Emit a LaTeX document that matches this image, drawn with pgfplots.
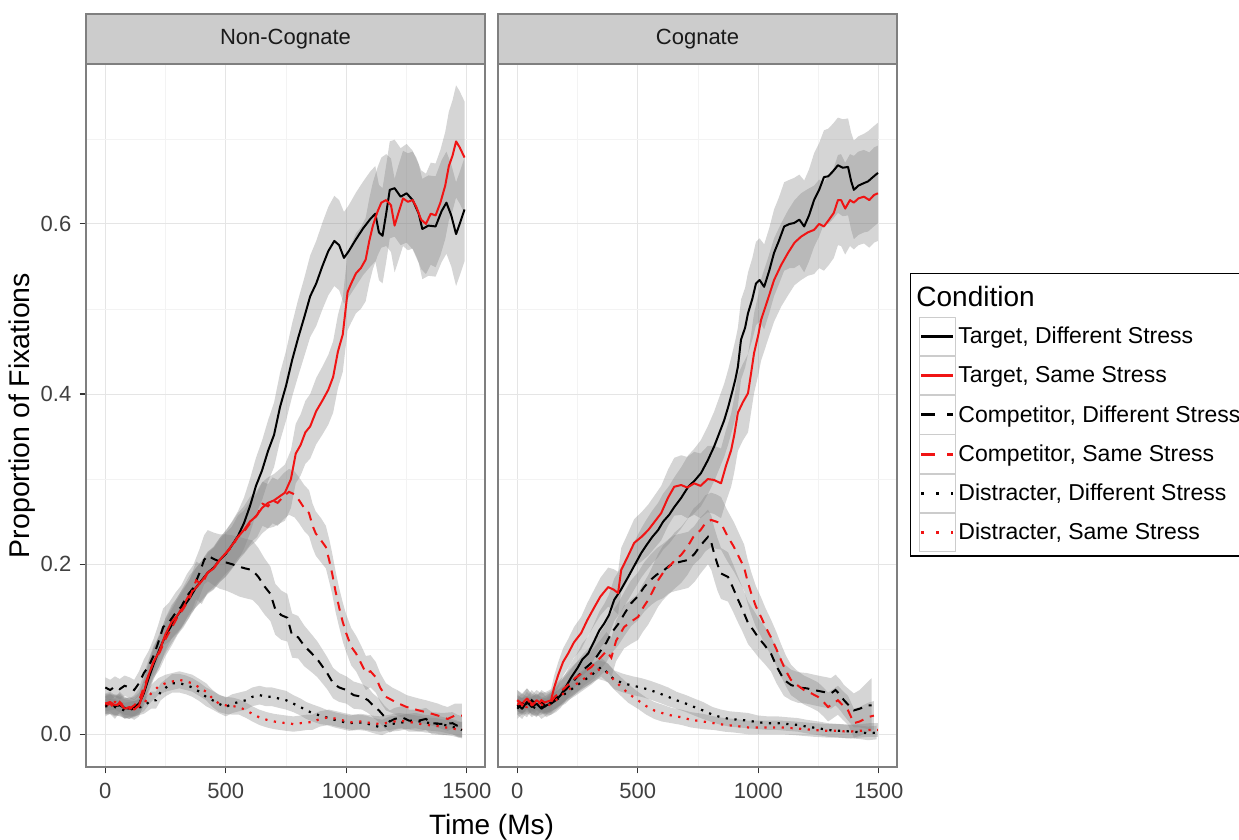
\documentclass[border=0pt]{standalone}
\usepackage{fontspec}
\setmainfont{Liberation Sans}
\usepackage{pgfplots}
\usepackage{pgfplotstable}
\pgfplotsset{compat=1.18}
\usepgfplotslibrary{fillbetween}

\definecolor{lineRed}{RGB}{240,20,20}
\definecolor{gridMajor}{RGB}{229,229,229}
\definecolor{gridMinor}{RGB}{243,243,243}
\definecolor{borderGrey}{RGB}{127,127,127}
\definecolor{tickGrey}{RGB}{51,51,51}
\definecolor{stripFill}{RGB}{204,204,204}
\definecolor{tickText}{RGB}{64,64,64}
\definecolor{stripText}{RGB}{26,26,26}
\definecolor{keyBorder}{RGB}{204,204,204}

% ---------------- Non-Cognate ----------------
\pgfplotstableread{
t v se
0 0.035 0.012
20 0.036 0.012
40 0.033 0.012
60 0.034 0.012
80 0.031 0.012
100 0.030 0.012
120 0.032 0.012
140 0.036 0.013
160 0.048 0.015
180 0.066 0.017
200 0.082 0.018
225 0.100 0.019
250 0.116 0.020
275 0.128 0.021
300 0.140 0.022
325 0.150 0.022
350 0.160 0.022
375 0.172 0.023
400 0.181 0.023
425 0.190 0.024
450 0.196 0.025
475 0.205 0.026
500 0.212 0.027
525 0.222 0.028
550 0.233 0.029
575 0.248 0.030
600 0.268 0.032
625 0.292 0.033
650 0.310 0.035
675 0.333 0.036
700 0.352 0.038
725 0.385 0.040
750 0.410 0.041
775 0.440 0.043
800 0.466 0.045
825 0.490 0.046
850 0.515 0.048
875 0.530 0.050
900 0.550 0.051
925 0.568 0.052
950 0.580 0.053
970 0.575 0.053
990 0.560 0.054
1010 0.568 0.054
1040 0.582 0.055
1070 0.595 0.055
1100 0.606 0.056
1120 0.612 0.056
1135 0.590 0.056
1150 0.586 0.056
1165 0.612 0.057
1180 0.640 0.057
1200 0.642 0.057
1225 0.632 0.057
1250 0.636 0.058
1275 0.628 0.058
1300 0.612 0.058
1315 0.594 0.059
1340 0.598 0.059
1370 0.597 0.059
1395 0.615 0.060
1415 0.625 0.060
1435 0.610 0.060
1455 0.588 0.061
1470 0.600 0.061
1490 0.617 0.061
}\ncTD

\pgfplotstableread{
t v se
0 0.036 0.012
20 0.038 0.012
40 0.034 0.012
60 0.036 0.012
80 0.030 0.012
100 0.032 0.012
120 0.029 0.012
140 0.034 0.013
160 0.050 0.015
180 0.070 0.016
200 0.085 0.017
225 0.098 0.018
250 0.118 0.019
275 0.132 0.020
300 0.140 0.021
325 0.152 0.022
350 0.165 0.022
375 0.172 0.023
400 0.180 0.024
425 0.190 0.025
450 0.195 0.025
475 0.205 0.026
500 0.213 0.027
525 0.222 0.027
550 0.232 0.028
575 0.240 0.028
600 0.250 0.029
625 0.256 0.029
650 0.266 0.030
675 0.272 0.030
700 0.275 0.031
725 0.280 0.032
745 0.284 0.033
770 0.300 0.034
790 0.330 0.035
810 0.340 0.036
830 0.355 0.037
850 0.362 0.038
875 0.380 0.039
900 0.392 0.040
925 0.405 0.041
945 0.420 0.042
965 0.450 0.043
985 0.470 0.044
1005 0.520 0.045
1020 0.530 0.046
1040 0.542 0.047
1060 0.548 0.048
1080 0.558 0.049
1095 0.580 0.050
1110 0.598 0.051
1130 0.615 0.052
1145 0.625 0.053
1165 0.628 0.054
1185 0.622 0.055
1200 0.598 0.055
1215 0.612 0.056
1235 0.630 0.056
1255 0.626 0.057
1275 0.628 0.057
1290 0.620 0.058
1310 0.605 0.058
1330 0.600 0.059
1350 0.612 0.060
1370 0.610 0.061
1390 0.625 0.062
1410 0.645 0.063
1425 0.668 0.064
1440 0.680 0.065
1455 0.697 0.066
1470 0.690 0.066
1490 0.678 0.066
}\ncTS

\pgfplotstableread{
t v se
0 0.055 0.012
20 0.052 0.012
40 0.056 0.012
60 0.053 0.012
80 0.057 0.012
100 0.055 0.012
120 0.052 0.012
140 0.060 0.014
160 0.072 0.016
180 0.080 0.018
200 0.092 0.020
220 0.108 0.021
240 0.126 0.022
265 0.132 0.023
290 0.142 0.024
315 0.150 0.025
340 0.163 0.026
365 0.172 0.027
390 0.189 0.028
410 0.205 0.029
425 0.210 0.030
450 0.206 0.031
475 0.203 0.032
500 0.202 0.033
525 0.200 0.034
555 0.197 0.035
580 0.195 0.035
610 0.193 0.035
635 0.185 0.034
660 0.174 0.033
685 0.165 0.032
705 0.147 0.030
730 0.140 0.029
755 0.137 0.028
775 0.116 0.026
800 0.114 0.025
825 0.104 0.024
860 0.094 0.022
880 0.088 0.021
900 0.080 0.020
920 0.072 0.019
945 0.060 0.018
970 0.055 0.017
1000 0.052 0.016
1030 0.046 0.016
1065 0.044 0.015
1090 0.040 0.015
1110 0.034 0.014
1135 0.028 0.014
1160 0.020 0.013
1180 0.015 0.013
1200 0.018 0.013
1230 0.020 0.013
1260 0.016 0.013
1300 0.016 0.013
1330 0.018 0.013
1355 0.013 0.013
1400 0.012 0.013
1440 0.013 0.013
1460 0.010 0.013
1480 0.008 0.013
}\ncCD

\pgfplotstableread{
t v se
0 0.033 0.012
20 0.036 0.012
40 0.030 0.012
60 0.038 0.012
80 0.032 0.012
100 0.030 0.012
120 0.034 0.012
140 0.040 0.014
160 0.055 0.016
180 0.070 0.018
200 0.085 0.019
225 0.096 0.020
250 0.112 0.020
275 0.125 0.021
300 0.138 0.021
325 0.148 0.022
350 0.160 0.022
377 0.181 0.022
400 0.176 0.023
425 0.190 0.023
450 0.196 0.023
475 0.205 0.024
500 0.213 0.024
525 0.220 0.024
550 0.232 0.025
575 0.238 0.025
610 0.252 0.025
630 0.258 0.026
652 0.271 0.026
675 0.268 0.026
694 0.275 0.027
715 0.272 0.027
740 0.280 0.027
762 0.285 0.027
785 0.282 0.027
804 0.275 0.027
825 0.266 0.027
845 0.260 0.027
860 0.245 0.026
873 0.236 0.026
895 0.228 0.026
915 0.220 0.025
930 0.203 0.025
941 0.189 0.024
955 0.168 0.024
970 0.149 0.023
985 0.132 0.023
999 0.119 0.022
1020 0.103 0.022
1040 0.095 0.021
1060 0.084 0.021
1081 0.072 0.020
1100 0.074 0.019
1122 0.067 0.018
1140 0.055 0.017
1164 0.044 0.016
1190 0.040 0.015
1218 0.036 0.015
1250 0.032 0.014
1275 0.030 0.014
1301 0.028 0.014
1330 0.026 0.014
1355 0.024 0.014
1380 0.022 0.014
1397 0.020 0.014
1420 0.018 0.014
1450 0.022 0.014
1479 0.022 0.014
}\ncCS

\pgfplotstableread{
t v se
0 0.033 0.009
40 0.032 0.009
80 0.028 0.009
120 0.030 0.009
160 0.033 0.009
190 0.040 0.010
210 0.040 0.010
230 0.050 0.010
252 0.055 0.010
278 0.060 0.011
307 0.060 0.011
335 0.058 0.011
361 0.055 0.011
390 0.050 0.011
418 0.044 0.011
445 0.040 0.011
470 0.036 0.011
500 0.032 0.011
527 0.036 0.011
555 0.038 0.011
584 0.040 0.011
610 0.044 0.011
640 0.046 0.011
667 0.044 0.011
692 0.044 0.011
720 0.042 0.011
750 0.040 0.011
780 0.036 0.010
810 0.032 0.010
833 0.028 0.010
860 0.025 0.010
890 0.022 0.010
916 0.020 0.009
950 0.017 0.009
980 0.015 0.009
1011 0.013 0.009
1050 0.014 0.009
1081 0.013 0.009
1115 0.010 0.009
1148 0.008 0.009
1180 0.012 0.009
1218 0.013 0.009
1250 0.015 0.009
1288 0.016 0.009
1320 0.014 0.009
1355 0.013 0.009
1390 0.012 0.009
1420 0.010 0.009
1450 0.008 0.009
1479 0.005 0.009
}\ncDD

\pgfplotstableread{
t v se
0 0.036 0.009
40 0.038 0.009
80 0.032 0.009
120 0.030 0.009
160 0.036 0.009
190 0.048 0.010
220 0.056 0.010
250 0.060 0.010
278 0.062 0.010
307 0.064 0.010
335 0.062 0.010
361 0.060 0.010
390 0.055 0.010
418 0.050 0.010
445 0.042 0.010
472 0.036 0.010
500 0.034 0.010
530 0.033 0.010
555 0.032 0.009
585 0.028 0.009
610 0.024 0.009
638 0.020 0.009
670 0.017 0.009
700 0.015 0.009
725 0.014 0.009
750 0.013 0.009
780 0.012 0.009
810 0.013 0.009
835 0.014 0.009
858 0.014 0.009
890 0.018 0.009
928 0.020 0.009
960 0.018 0.009
990 0.016 0.009
1023 0.014 0.009
1060 0.015 0.009
1106 0.013 0.009
1140 0.012 0.009
1180 0.014 0.009
1218 0.016 0.009
1250 0.015 0.009
1290 0.013 0.009
1330 0.011 0.009
1370 0.010 0.009
1410 0.008 0.009
1440 0.007 0.009
1466 0.005 0.009
1480 0.006 0.009
}\ncDS

% ---------------- Cognate ----------------
\pgfplotstableread{
t v se
0 0.035 0.012
20 0.030 0.012
40 0.038 0.012
60 0.032 0.012
80 0.036 0.012
100 0.030 0.012
120 0.034 0.012
140 0.036 0.013
160 0.040 0.014
180 0.046 0.015
200 0.055 0.016
224 0.067 0.017
250 0.078 0.018
270 0.088 0.019
294 0.095 0.020
320 0.110 0.021
340 0.122 0.022
360 0.130 0.023
380 0.140 0.024
402 0.158 0.025
430 0.170 0.026
460 0.185 0.027
485 0.198 0.028
514 0.213 0.029
535 0.222 0.030
560 0.232 0.031
584 0.240 0.032
605 0.250 0.033
630 0.258 0.034
651 0.267 0.035
680 0.278 0.036
709 0.291 0.037
735 0.298 0.038
762 0.307 0.039
790 0.322 0.040
816 0.338 0.041
835 0.352 0.042
858 0.369 0.043
875 0.385 0.044
890 0.401 0.045
905 0.418 0.046
915 0.432 0.046
928 0.464 0.047
945 0.478 0.047
957 0.495 0.048
975 0.512 0.048
990 0.530 0.049
1005 0.534 0.049
1024 0.526 0.050
1045 0.545 0.050
1065 0.566 0.051
1085 0.580 0.051
1107 0.597 0.052
1130 0.600 0.052
1148 0.601 0.053
1170 0.605 0.053
1190 0.597 0.054
1210 0.610 0.054
1231 0.628 0.055
1252 0.640 0.055
1272 0.655 0.055
1290 0.656 0.056
1310 0.662 0.056
1330 0.669 0.056
1350 0.666 0.057
1372 0.667 0.057
1385 0.650 0.057
1396 0.640 0.058
1415 0.645 0.058
1438 0.648 0.058
1455 0.650 0.059
1475 0.655 0.059
1496 0.660 0.059
}\coTD

\pgfplotstableread{
t v se
0 0.040 0.012
20 0.036 0.012
40 0.042 0.012
60 0.034 0.012
80 0.040 0.012
100 0.036 0.012
120 0.038 0.012
140 0.040 0.013
153 0.055 0.014
170 0.070 0.015
190 0.085 0.016
211 0.095 0.017
235 0.108 0.018
265 0.119 0.019
290 0.134 0.020
319 0.149 0.021
345 0.162 0.022
377 0.173 0.023
400 0.170 0.024
418 0.166 0.025
431 0.193 0.026
460 0.210 0.027
485 0.225 0.028
515 0.232 0.029
543 0.240 0.030
570 0.250 0.031
597 0.260 0.032
625 0.278 0.033
651 0.291 0.034
680 0.293 0.035
705 0.290 0.036
734 0.295 0.037
760 0.292 0.038
790 0.300 0.039
816 0.299 0.040
845 0.295 0.041
865 0.315 0.042
887 0.334 0.043
900 0.352 0.044
915 0.378 0.045
935 0.390 0.045
957 0.401 0.046
970 0.425 0.046
982 0.448 0.047
1000 0.470 0.047
1011 0.487 0.048
1040 0.512 0.048
1065 0.534 0.049
1095 0.552 0.049
1123 0.566 0.050
1150 0.578 0.050
1177 0.585 0.051
1205 0.590 0.051
1231 0.593 0.052
1252 0.600 0.052
1272 0.597 0.052
1293 0.605 0.053
1313 0.613 0.053
1330 0.628 0.053
1343 0.628 0.054
1360 0.618 0.054
1380 0.628 0.054
1396 0.625 0.055
1415 0.630 0.055
1438 0.632 0.055
1460 0.628 0.056
1480 0.634 0.056
1496 0.636 0.056
}\coTS

\pgfplotstableread{
t v se
0 0.030 0.012
20 0.036 0.012
40 0.032 0.012
60 0.040 0.012
80 0.034 0.012
100 0.038 0.012
120 0.032 0.012
140 0.036 0.013
160 0.042 0.014
180 0.048 0.015
200 0.052 0.016
225 0.060 0.017
250 0.068 0.018
275 0.076 0.019
300 0.082 0.020
319 0.087 0.021
345 0.098 0.022
370 0.108 0.023
390 0.119 0.024
420 0.130 0.025
445 0.142 0.026
472 0.154 0.027
500 0.162 0.028
526 0.173 0.029
555 0.182 0.030
580 0.188 0.031
605 0.192 0.032
630 0.198 0.032
651 0.201 0.033
680 0.203 0.033
709 0.205 0.033
735 0.212 0.033
760 0.222 0.033
791 0.232 0.032
805 0.225 0.032
816 0.213 0.031
830 0.200 0.031
845 0.189 0.030
874 0.185 0.029
895 0.172 0.028
916 0.158 0.027
935 0.146 0.026
957 0.131 0.025
980 0.122 0.024
999 0.114 0.023
1025 0.105 0.022
1052 0.095 0.021
1075 0.080 0.020
1106 0.064 0.019
1135 0.058 0.018
1164 0.055 0.018
1200 0.054 0.018
1231 0.052 0.018
1265 0.050 0.018
1301 0.048 0.018
1320 0.052 0.018
1340 0.046 0.018
1355 0.040 0.018
1375 0.034 0.019
1396 0.028 0.020
1420 0.030 0.022
1438 0.032 0.025
1455 0.034 0.028
1470 0.034 0.032
}\coCD

\pgfplotstableread{
t v se
0 0.040 0.012
20 0.034 0.012
40 0.042 0.012
60 0.036 0.012
80 0.032 0.012
100 0.040 0.012
120 0.036 0.012
140 0.038 0.013
155 0.044 0.014
180 0.050 0.015
210 0.058 0.016
240 0.066 0.017
270 0.072 0.018
307 0.079 0.019
330 0.086 0.020
348 0.091 0.021
370 0.098 0.022
390 0.090 0.023
410 0.110 0.024
443 0.126 0.025
470 0.132 0.026
501 0.138 0.027
520 0.148 0.028
543 0.158 0.029
565 0.170 0.030
584 0.181 0.031
605 0.190 0.032
626 0.196 0.032
652 0.204 0.033
680 0.211 0.033
705 0.220 0.033
730 0.232 0.033
760 0.240 0.033
780 0.248 0.033
804 0.252 0.032
825 0.250 0.032
845 0.248 0.031
870 0.234 0.030
899 0.220 0.029
920 0.208 0.028
941 0.196 0.027
955 0.180 0.026
970 0.166 0.025
990 0.150 0.024
1011 0.138 0.023
1030 0.126 0.022
1052 0.114 0.021
1075 0.100 0.020
1094 0.087 0.019
1115 0.074 0.018
1135 0.064 0.018
1160 0.058 0.017
1189 0.052 0.017
1220 0.048 0.017
1247 0.044 0.017
1270 0.038 0.017
1289 0.032 0.017
1310 0.036 0.017
1330 0.040 0.017
1350 0.034 0.017
1372 0.028 0.017
1385 0.020 0.017
1396 0.013 0.017
1420 0.015 0.017
1455 0.020 0.017
1479 0.022 0.017
}\coCS

\pgfplotstableread{
t v se
0 0.032 0.009
40 0.036 0.009
80 0.030 0.009
120 0.034 0.009
160 0.040 0.010
200 0.048 0.010
240 0.056 0.011
280 0.064 0.011
310 0.070 0.011
330 0.075 0.011
348 0.079 0.011
375 0.072 0.011
402 0.064 0.011
440 0.060 0.011
480 0.057 0.011
514 0.055 0.011
550 0.052 0.011
590 0.048 0.011
626 0.044 0.011
660 0.040 0.010
700 0.036 0.010
734 0.032 0.010
770 0.028 0.010
810 0.023 0.009
845 0.020 0.009
880 0.018 0.009
920 0.017 0.009
957 0.016 0.009
1000 0.014 0.008
1040 0.013 0.008
1080 0.013 0.008
1120 0.012 0.008
1164 0.011 0.008
1200 0.009 0.008
1250 0.007 0.008
1289 0.005 0.008
1340 0.004 0.008
1396 0.003 0.008
1430 0.002 0.008
1455 0.001 0.008
1490 0.002 0.008
}\coDD

\pgfplotstableread{
t v se
0 0.036 0.009
40 0.032 0.009
80 0.038 0.009
120 0.032 0.009
160 0.040 0.010
200 0.050 0.010
240 0.058 0.011
280 0.066 0.011
310 0.072 0.011
335 0.076 0.011
360 0.074 0.011
377 0.072 0.011
400 0.064 0.011
430 0.056 0.011
460 0.048 0.011
500 0.040 0.010
535 0.033 0.010
568 0.028 0.010
600 0.025 0.010
640 0.022 0.009
680 0.020 0.009
720 0.017 0.009
770 0.015 0.009
816 0.013 0.008
860 0.011 0.008
900 0.010 0.008
957 0.008 0.008
1000 0.008 0.008
1050 0.008 0.008
1094 0.008 0.008
1150 0.007 0.008
1190 0.006 0.008
1231 0.005 0.008
1290 0.004 0.008
1330 0.004 0.008
1372 0.003 0.008
1420 0.004 0.008
1460 0.005 0.008
1496 0.005 0.008
}\coDS

\newcommand{\ribbon}[2]{%
  \addplot[name path=#2u, draw=none, forget plot] table[x=t, y expr=\thisrow{v}+\thisrow{se}] {#1};
  \addplot[name path=#2l, draw=none, forget plot] table[x=t, y expr=\thisrow{v}-\thisrow{se}] {#1};
  \addplot[fill=gray, fill opacity=0.33, draw=none, forget plot] fill between[of=#2u and #2l];
}

\tikzset{
  strip/.style={fill=stripFill, draw=borderGrey, line width=1.2pt,
    minimum width=399pt, minimum height=50pt, inner sep=0pt, outer sep=0pt,
    anchor=south, font=\fontsize{22}{26}\selectfont, text=stripText},
}

\pgfplotsset{
  tdS/.style={black, line width=2pt, solid, line join=round},
  tsS/.style={lineRed, line width=2pt, solid, line join=round},
  cdS/.style={black, line width=2pt, dash pattern=on 9pt off 7pt},
  csS/.style={lineRed, line width=2pt, dash pattern=on 9pt off 7pt},
  ddS/.style={black, line width=2.2pt, dash pattern=on 2.2pt off 6.5pt},
  dsS/.style={lineRed, line width=2.2pt, dash pattern=on 2.2pt off 6.5pt},
  panel/.style={
    scale only axis, width=399pt, height=703pt, anchor=south west,
    xmin=-80, xmax=1575, ymin=-0.0385, ymax=0.788,
    xtick={0,500,1000,1500}, xticklabels={0,500,1000,1500},
    minor xtick={250,750,1250},
    ytick={0,0.2,0.4,0.6}, minor ytick={0.1,0.3,0.5,0.7},
    grid=both,
    major grid style={gridMajor, line width=1pt},
    minor grid style={gridMinor, line width=0.6pt},
    axis line style={borderGrey, line width=1.2pt},
    tick align=outside, major tick length=6.5pt, minor tick length=0pt,
    tick style={tickGrey, line width=1.1pt},
    xtick pos=bottom, ytick pos=left,
    /pgf/number format/assume math mode=true,
    ticklabel style={font=\fontsize{22}{26}\selectfont, text=tickText},
    xticklabel style={inner sep=0pt, anchor=north},
    yticklabel style={inner sep=0pt, anchor=east},
    xticklabel shift=9pt, yticklabel shift=8pt,
  },
}

\begin{document}
\begin{tikzpicture}

% ---------- left panel ----------
\begin{axis}[panel, at={(86pt,73pt)},
  yticklabels={0.0,0.2,0.4,0.6},
  ylabel={Proportion of Fixations},
  every axis y label/.style={at={(-0.1404,0.5)}, rotate=90, anchor=base,
    font=\fontsize{28.5}{32}\selectfont, text=black},
  xlabel={Time (Ms)},
  every axis x label/.style={at={(1.0163,-0.0967)}, anchor=base,
    font=\fontsize{28}{32}\selectfont, text=black},
  after end axis/.code={\node[strip] at (rel axis cs:0.5,1) {Non-Cognate};},
]
\ribbon{\ncTD}{a}
\ribbon{\ncTS}{b}
\ribbon{\ncCD}{c}
\ribbon{\ncCS}{d}
\ribbon{\ncDD}{e}
\ribbon{\ncDS}{f}
\addplot[tdS] table[x=t,y=v] {\ncTD};
\addplot[tsS] table[x=t,y=v] {\ncTS};
\addplot[cdS] table[x=t,y=v] {\ncCD};
\addplot[csS] table[x=t,y=v] {\ncCS};
\addplot[ddS] table[x=t,y=v] {\ncDD};
\addplot[dsS] table[x=t,y=v] {\ncDS};
\end{axis}

% ---------- right panel ----------
\begin{axis}[panel, at={(498pt,73pt)},
  yticklabels={}, ytick style={draw=none},
  after end axis/.code={\node[strip] at (rel axis cs:0.5,1) {Cognate};},
  legend cell align=left,
  legend image code/.code={%
    \draw[draw=keyBorder, line width=0.8pt, solid] (0pt,-19.2pt) rectangle (36pt,19.2pt);
    \draw[#1] (2pt,0pt) -- (34pt,0pt);},
  legend style={at={(1.0326,0.7027)}, anchor=north west, draw=black,
    line width=1.2pt, fill=white, inner xsep=8pt, inner ysep=4pt,
    /tikz/row sep=0pt, /tikz/column sep=0pt,
    font=\fontsize{23}{27}\selectfont,
    nodes={inner xsep=3pt, inner ysep=0pt, minimum height=39.2pt}},
]
\addlegendimage{empty legend}
\addlegendentry[font=\fontsize{28}{32}\selectfont]{\hspace*{-42pt}Condition}
\ribbon{\coTD}{a}
\ribbon{\coTS}{b}
\ribbon{\coCD}{c}
\ribbon{\coCS}{d}
\ribbon{\coDD}{e}
\ribbon{\coDS}{f}
\addplot[tdS, legend image post style={line width=3pt}] table[x=t,y=v] {\coTD};
\addlegendentry{Target, Different Stress}
\addplot[tsS, legend image post style={line width=3pt}] table[x=t,y=v] {\coTS};
\addlegendentry{Target, Same Stress}
\addplot[cdS, legend image post style={line width=3pt, dash pattern=on 14pt off 12pt}] table[x=t,y=v] {\coCD};
\addlegendentry{Competitor, Different Stress}
\addplot[csS, legend image post style={line width=3pt, dash pattern=on 14pt off 12pt}] table[x=t,y=v] {\coCS};
\addlegendentry{Competitor, Same Stress}
\addplot[ddS, legend image post style={line width=3pt, dash pattern=on 3pt off 12pt}] table[x=t,y=v] {\coDD};
\addlegendentry{Distracter, Different Stress}
\addplot[dsS, legend image post style={line width=3pt, dash pattern=on 3pt off 12pt}] table[x=t,y=v] {\coDS};
\addlegendentry{Distracter, Same Stress}
\end{axis}

\pgfresetboundingbox
\useasboundingbox (0,0) rectangle (1239pt,840pt);
\end{tikzpicture}
\end{document}
